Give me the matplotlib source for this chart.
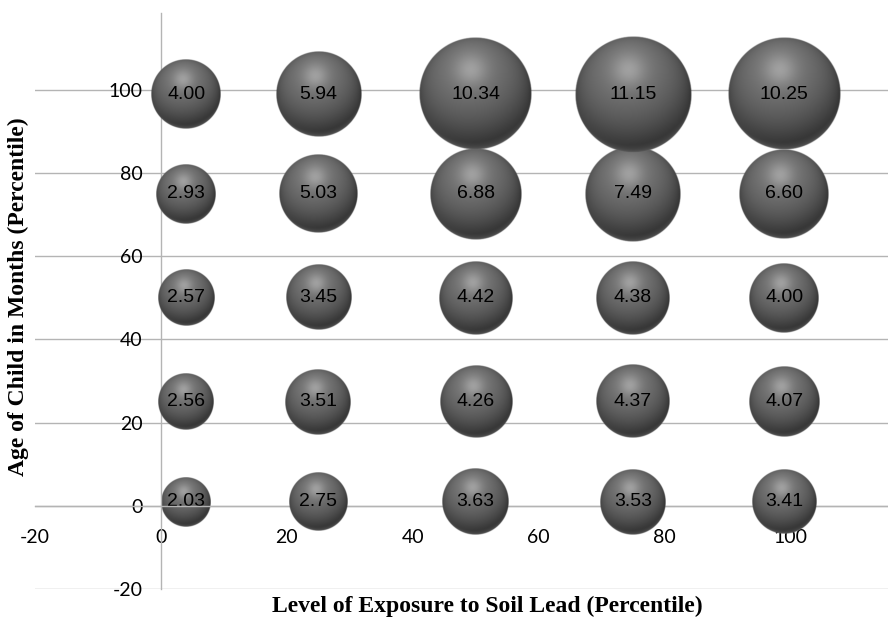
import numpy as np
import matplotlib
matplotlib.use("Agg")
from matplotlib import pyplot as plt

# 土壤铅暴露水平 (列) 与儿童月龄 (行) 的百分位位置
exposure_pct = [4, 25, 50, 75, 99]
age_pct = [1, 25, 50, 75, 99]

# 每个气泡的数值，按行(月龄)排列，从下到上
bubble_values = [
    [2.03, 2.75, 3.63, 3.53, 3.41],
    [2.56, 3.51, 4.26, 4.37, 4.07],
    [2.57, 3.45, 4.42, 4.38, 4.00],
    [2.93, 5.03, 6.88, 7.49, 6.60],
    [4.00, 5.94, 10.34, 11.15, 10.25],
]

tick_values = [-20, 0, 20, 40, 60, 80, 100]
tick_labels = ["-20", "0", "20", "40", "60", "80", "100"]

x_title = "Level of Exposure to Soil Lead (Percentile)"
y_title = "Age of Child in Months (Percentile)"

RADIUS_PX = 17.5   # 像素半径 = RADIUS_PX * sqrt(数值)，面积与数值成正比
GRID_COLOR = "#b4b4b4"


def sphere_image(n=240):
    # 生成带高光的灰色球体 RGBA 贴图
    t = np.linspace(-1, 1, n)
    u, v = np.meshgrid(t, -t)
    r = np.sqrt(u ** 2 + v ** 2)
    z = np.sqrt(np.clip(1 - r ** 2, 0, 1))
    light = np.array([-0.12, 0.5, 0.86])
    light = light / np.linalg.norm(light)
    diff = np.clip(u * light[0] + v * light[1] + z * light[2], 0, 1)
    spec = np.exp(-((u + 0.08) ** 2 + (v - 0.42) ** 2) / 0.08)
    rim = np.clip(-v, 0, 1) * (1 - z) ** 3
    g = 0.19 + 0.28 * diff + 0.16 * spec + 0.28 * rim
    g = np.clip(g, 0, 1)
    alpha = np.clip((1 - r) * n / 3.0, 0, 1)
    img = np.dstack([g, g, g, alpha])
    return img


fig = plt.figure(figsize=(8.88, 6.18), dpi=100)
ax = fig.add_axes([35 / 888, 1 - 589 / 618, 1 - 35 / 888, (589 - 13) / 618])
ax.set_xlim(-20, 115.5)
ax.set_ylim(-20, 118.5)

# 坐标轴交于原点
for side in ["top", "right"]:
    ax.spines[side].set_visible(False)
ax.spines["left"].set_position(("data", 0))
ax.spines["bottom"].set_position(("data", 0))
ax.spines["left"].set_color(GRID_COLOR)
ax.spines["bottom"].set_color(GRID_COLOR)
ax.spines["left"].set_linewidth(1.0)
ax.spines["bottom"].set_linewidth(1.0)

ax.set_xticks(tick_values)
ax.set_xticklabels(tick_labels)
ax.set_yticks(tick_values)
ax.set_yticklabels(tick_labels)
ax.tick_params(axis="x", length=0, pad=17, labelsize=14)
ax.tick_params(axis="y", length=0, pad=13, labelsize=14)
for lab in ax.get_xticklabels() + ax.get_yticklabels():
    lab.set_family("Lato")

for yv in tick_values:
    ax.axhline(yv, color=GRID_COLOR, lw=1.0, zorder=0)

# 球形气泡
sphere = sphere_image()
to_px = ax.transData
to_data = ax.transData.inverted()
z = 2
for row, yv in enumerate(age_pct):
    for col, xv in enumerate(exposure_pct):
        val = bubble_values[row][col]
        cx, cy = to_px.transform((xv, yv))
        rad = RADIUS_PX * np.sqrt(val)
        (x0, y0) = to_data.transform((cx - rad, cy - rad))
        (x1, y1) = to_data.transform((cx + rad, cy + rad))
        ax.imshow(sphere, extent=(x0, x1, y0, y1), aspect="auto",
                  interpolation="bilinear", zorder=z)
        ax.text(xv, yv, f"{val:.2f}", ha="center", va="center",
                fontsize=14, family="Liberation Sans", color="black",
                zorder=z + 0.5)
        z += 1

ax.set_xlim(-20, 115.5)
ax.set_ylim(-20, 118.5)

fig.text(487 / 888, 1 - 606 / 618, x_title, ha="center", va="center",
         family="Liberation Serif", fontweight="bold", fontsize=17)
fig.text(18 / 888, 1 - 297 / 618, y_title, ha="center", va="center",
         rotation=90, family="Liberation Serif", fontweight="bold", fontsize=17)

fig.savefig("out.png", dpi=100)
